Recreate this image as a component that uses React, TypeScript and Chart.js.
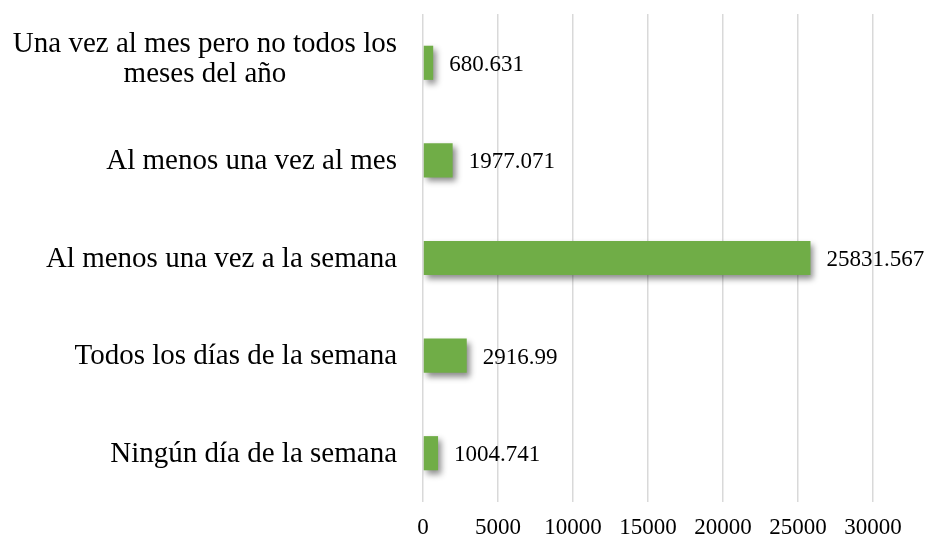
import React, { useEffect, useRef } from "react";
import { Chart, registerables } from "chart.js";

Chart.register(...registerables);

const categories: (string | string[])[] = [
  ["Una vez al mes pero no todos los", "meses del año"],
  "Al menos una vez al mes",
  "Al menos una vez a la semana",
  "Todos los días de la semana",
  "Ningún día de la semana",
];
const values = [680.631, 1977.071, 25831.567, 2916.99, 1004.741];
const valueLabels = ["680.631", "1977.071", "25831.567", "2916.99", "1004.741"];
const xTicks = [0, 5000, 10000, 15000, 20000, 25000, 30000];

const FONT = "'Liberation Serif', 'Times New Roman', serif";

const shadowPlugin = {
  id: "barShadow",
  beforeDatasetsDraw(chart: any) {
    const ctx = chart.ctx;
    ctx.save();
    ctx.shadowColor = "rgba(0,0,0,0.45)";
    ctx.shadowBlur = 6;
    ctx.shadowOffsetX = 3;
    ctx.shadowOffsetY = 4;
  },
  afterDatasetsDraw(chart: any) {
    chart.ctx.restore();
  },
};

const labelPlugin = {
  id: "customLabels",
  afterDraw(chart: any) {
    const ctx = chart.ctx;
    ctx.save();
    // value labels
    ctx.font = `23px ${FONT}`;
    ctx.fillStyle = "#000";
    ctx.textAlign = "left";
    ctx.textBaseline = "middle";
    const meta = chart.getDatasetMeta(0);
    meta.data.forEach((bar: any, i: number) => {
      ctx.fillText(valueLabels[i], bar.x + 16, bar.y + 2);
    });
    // category labels
    ctx.font = `29px ${FONT}`;
    const yScale = chart.scales.y;
    const xRight = yScale.right - 26;
    const lh = 30;
    categories.forEach((lab, i) => {
      const lines = Array.isArray(lab) ? lab : [lab];
      const yc = yScale.getPixelForTick(i) + 1;
      const widest = Math.max(...lines.map((l) => ctx.measureText(l).width));
      lines.forEach((line, j) => {
        const y = yc - ((lines.length - 1) * lh) / 2 + j * lh - (lines.length > 1 ? 4 : 0);
        if (lines.length > 1) {
          ctx.textAlign = "center";
          ctx.fillText(line, xRight - widest / 2, y);
        } else {
          ctx.textAlign = "right";
          ctx.fillText(line, xRight, y);
        }
      });
    });
    ctx.restore();
  },
};

export default function App() {
  const ref = useRef<HTMLCanvasElement>(null);
  useEffect(() => {
    if (!ref.current) return;
    const chart = new Chart(ref.current, {
      type: "bar",
      data: {
        labels: categories as any,
        datasets: [
          {
            data: values,
            backgroundColor: "#70AD47",
            borderWidth: 0,
            categoryPercentage: 1,
            barPercentage: 0.35,
          },
        ],
      },
      options: {
        indexAxis: "y",
        animation: false,
        responsive: false,
        layout: { padding: { top: 14, right: 73, bottom: 0, left: 0 } },
        plugins: {
          legend: { display: false },
          tooltip: { enabled: false },
        },
        scales: {
          x: {
            min: 0,
            max: 30000,
            afterBuildTicks: (scale: any) => {
              scale.ticks = xTicks.map((v) => ({ value: v }));
            },
            afterFit: (scale: any) => {
              scale.height = 37;
            },
            grid: { color: "#d9d9d9", lineWidth: 1.5, drawTicks: false },
            border: { display: false },
            ticks: {
              padding: 14,
              color: "#000",
              font: { family: FONT, size: 23, lineHeight: 1 },
              maxRotation: 0,
              callback: (v: any) => String(v),
            },
          },
          y: {
            grid: { display: false },
            border: { display: false },
            ticks: { display: false },
            afterFit: (scale: any) => {
              scale.width = 423;
            },
          },
        },
      },
      plugins: [shadowPlugin, labelPlugin],
    });
    return () => chart.destroy();
  }, []);
  return (
    <div style={{ position: "fixed", left: 0, top: 0, width: 946, height: 539, background: "#fff" }}>
      <canvas ref={ref} width={946} height={539} />
    </div>
  );
}
